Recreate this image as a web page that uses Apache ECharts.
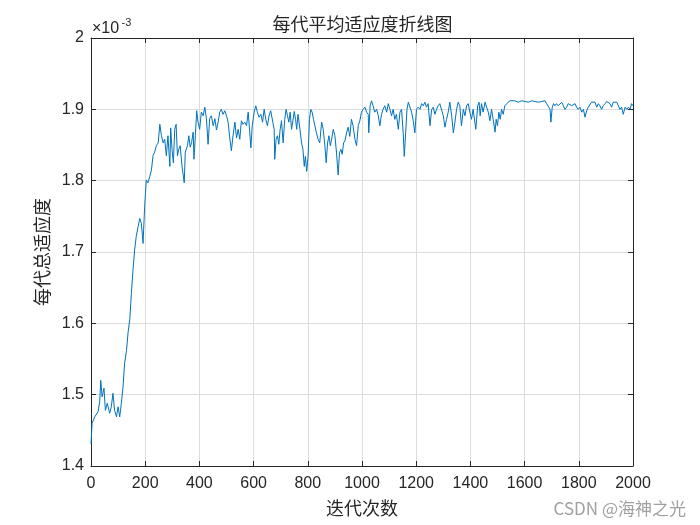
<!DOCTYPE html>
<html>
<head>
<meta charset="utf-8">
<script src="https://cdn.jsdelivr.net/npm/echarts@6/dist/echarts.min.js"></script>
<style>
  html, body { margin: 0; padding: 0; background: #fff; }
  #chart { width: 700px; height: 525px; }
</style>
</head>
<body>
<div id="chart"></div>
<script>
// 迭代次数（采样点）
const iterations = [
  0, 4, 14, 26, 32, 36, 41, 48, 53, 60, 69, 75, 81, 87, 94, 100, 106, 112, 118, 124,
  131, 137, 143, 149, 155, 161, 167, 174, 180, 186, 192, 198, 204, 210, 217, 223, 229, 235, 241, 248,
  254, 260, 266, 272, 278, 284, 291, 294, 299, 304, 309, 314, 319, 324, 329, 336, 344, 348, 356, 361,
  366, 371, 377, 380, 385, 390, 395, 401, 407, 414, 420, 426, 432, 438, 444, 451, 457, 463,
  469, 475, 481, 487, 494, 500, 506, 512, 518, 524, 531, 537, 543, 549, 555, 561, 567, 574, 580, 586,
  590, 595, 602, 608, 614, 620, 627, 633, 639, 645, 651, 657, 663, 670, 676, 678, 683, 688, 693, 698,
  703, 709, 715, 720, 725, 730, 735, 740, 745, 750, 755, 759, 764, 771, 777, 782, 787, 791, 796, 801,
  806, 811, 816, 821, 826, 832, 838, 844, 851, 857, 863, 868, 873, 878, 883, 887, 894, 900, 906, 912,
  917, 922, 927, 932, 937, 943, 949,
  955, 961, 967, 974, 980, 986, 992, 998, 1004, 1011, 1017, 1023, 1025, 1030, 1035, 1041, 1047, 1054, 1060, 1066,
  1072, 1078, 1084, 1091, 1097, 1103, 1109, 1115, 1121, 1127, 1134, 1140, 1146, 1152, 1156, 1161, 1166, 1171, 1177, 1183,
  1189, 1195, 1201, 1207, 1214, 1220, 1226, 1232, 1238, 1244, 1251, 1257, 1263, 1269, 1275, 1281, 1287, 1294, 1300, 1306,
  1312, 1318, 1324, 1331, 1337, 1343, 1349, 1355, 1361, 1367, 1374, 1380, 1386, 1392, 1398, 1404, 1410,
  1417, 1420, 1427, 1432, 1436, 1441, 1447, 1454, 1460, 1466, 1472, 1478, 1484, 1491, 1495, 1500, 1505, 1510, 1515, 1521,
  1527, 1534, 1540, 1546, 1552, 1564, 1577, 1589, 1601, 1614, 1626, 1638, 1651, 1663, 1675, 1681, 1687, 1694, 1697, 1702,
  1707, 1712, 1718, 1724, 1731, 1737, 1743, 1749, 1755, 1761, 1767, 1774, 1780, 1786, 1792, 1798, 1804, 1811, 1817, 1823,
  1829, 1835, 1841, 1847, 1854, 1860, 1866, 1872, 1878, 1884, 1890, 1897, 1903, 1909, 1915, 1921, 1927, 1934, 1940, 1946,
  1952, 1958, 1964, 1971, 1977, 1983, 1989, 1995, 2000
];

// 每代平均适应度（单位 ×10^-3）
const fitnessE3 = [
  1.431, 1.460, 1.469, 1.476, 1.490, 1.520, 1.497, 1.509, 1.478, 1.488, 1.474, 1.483, 1.502, 1.478, 1.469, 1.483, 1.469, 1.488, 1.510, 1.544,
  1.562, 1.588, 1.605, 1.642, 1.675, 1.703, 1.722, 1.736, 1.747, 1.740, 1.712, 1.764, 1.801, 1.797, 1.806, 1.815, 1.835, 1.840, 1.849, 1.853,
  1.879, 1.863, 1.853, 1.858, 1.835, 1.863, 1.820, 1.874, 1.844, 1.825, 1.872, 1.879, 1.835, 1.844, 1.849, 1.820, 1.797, 1.840, 1.849, 1.863,
  1.847, 1.853, 1.868, 1.830, 1.863, 1.898, 1.882, 1.872, 1.896, 1.891, 1.903, 1.887, 1.851, 1.887, 1.891, 1.877, 1.887, 1.871,
  1.882, 1.896, 1.900, 1.893, 1.898, 1.891, 1.882, 1.860, 1.842, 1.863, 1.882, 1.860, 1.872, 1.858, 1.884, 1.879, 1.882, 1.877, 1.896, 1.867,
  1.846, 1.877, 1.896, 1.905, 1.896, 1.889, 1.893, 1.882, 1.900, 1.886, 1.877, 1.891, 1.898, 1.900, 1.872, 1.830, 1.858, 1.863, 1.851, 1.872,
  1.884, 1.853, 1.886, 1.900, 1.891, 1.882, 1.896, 1.872, 1.884, 1.897, 1.886, 1.872, 1.893, 1.872, 1.853, 1.844, 1.820, 1.834, 1.813, 1.834,
  1.886, 1.900, 1.896, 1.886, 1.877, 1.867, 1.858, 1.853, 1.882, 1.872, 1.849, 1.825, 1.853, 1.863, 1.849, 1.856, 1.872, 1.863, 1.839, 1.808,
  1.839, 1.844, 1.837, 1.853, 1.856, 1.867, 1.875,
  1.862, 1.886, 1.877, 1.858, 1.849, 1.877, 1.884, 1.896, 1.900, 1.903, 1.896, 1.893, 1.867, 1.905, 1.912, 1.905, 1.896, 1.900, 1.891, 1.877,
  1.893, 1.900, 1.905, 1.896, 1.908, 1.900, 1.891, 1.900, 1.886, 1.893, 1.872, 1.896, 1.900, 1.867, 1.834, 1.867, 1.900, 1.910, 1.908, 1.896,
  1.884, 1.867, 1.900, 1.903, 1.900, 1.908, 1.905, 1.910, 1.903, 1.908, 1.877, 1.900, 1.903, 1.893, 1.900, 1.905, 1.908, 1.910, 1.891, 1.875,
  1.886, 1.896, 1.910, 1.891, 1.867, 1.882, 1.900, 1.910, 1.905, 1.877, 1.900, 1.891, 1.905, 1.908, 1.896, 1.886, 1.900,
  1.900, 1.872, 1.905, 1.910, 1.891, 1.908, 1.896, 1.910, 1.903, 1.896, 1.884, 1.900, 1.886, 1.868, 1.886, 1.877, 1.896, 1.886, 1.900, 1.893,
  1.905, 1.908, 1.910, 1.912, 1.911, 1.912, 1.910, 1.912, 1.911, 1.910, 1.912, 1.911, 1.910, 1.911, 1.912, 1.908, 1.910, 1.900, 1.882, 1.903,
  1.908, 1.905, 1.908, 1.905, 1.903, 1.910, 1.905, 1.900, 1.903, 1.908, 1.910, 1.905, 1.903, 1.908, 1.903, 1.900, 1.903, 1.896, 1.900, 1.889,
  1.898, 1.903, 1.905, 1.910, 1.908, 1.910, 1.903, 1.908, 1.905, 1.900, 1.905, 1.908, 1.911, 1.910, 1.908, 1.903, 1.910, 1.908, 1.910, 1.908,
  1.900, 1.903, 1.893, 1.903, 1.900, 1.903, 1.900, 1.908, 1.905
];

const xTicks = { min: 0, max: 2000, interval: 200 };
const yTicks = { min: 1.4, max: 2.0, interval: 0.1 };

const AXIS_COLOR = '#262626';
const LABEL_FONT = 'Arial, "Liberation Sans", Helvetica, sans-serif';
const CJK_FONT = '"Noto Sans CJK SC", sans-serif';

const chart = echarts.init(document.getElementById('chart'), null, { renderer: 'canvas' });

const tickStyle = { inside: true, length: 5, lineStyle: { color: AXIS_COLOR, width: 1 } };
const lineStyle = { show: true, lineStyle: { color: AXIS_COLOR, width: 1 } };

chart.setOption({
  animation: false,
  backgroundColor: '#fff',
  grid: { left: 91, right: 67, top: 38, bottom: 59, containLabel: false },
  xAxis: [
    {
      type: 'value', ...xTicks,
      axisLine: { ...lineStyle, onZero: false },
      axisTick: tickStyle,
      splitLine: { show: true, lineStyle: { color: '#dcdcdc', width: 1 } },
      axisLabel: { color: AXIS_COLOR, fontSize: 16, fontFamily: LABEL_FONT, margin: 10, formatter: v => String(v) },
      name: '迭代次数', nameLocation: 'middle', nameGap: 33,
      nameTextStyle: { color: AXIS_COLOR, fontSize: 18, fontFamily: CJK_FONT }
    },
    {
      type: 'value', position: 'top', ...xTicks,
      axisLine: { ...lineStyle, onZero: false },
      axisTick: tickStyle,
      splitLine: { show: false },
      axisLabel: { show: false }
    }
  ],
  yAxis: [
    {
      type: 'value', ...yTicks,
      axisLine: { ...lineStyle, onZero: false },
      axisTick: tickStyle,
      splitLine: { show: true, lineStyle: { color: '#dcdcdc', width: 1 } },
      axisLabel: {
        color: AXIS_COLOR, fontSize: 16, fontFamily: LABEL_FONT, margin: 7,
        formatter: v => String(+v.toFixed(1))
      },
      name: '每代总适应度', nameLocation: 'middle', nameGap: 37, nameRotate: 90,
      nameTextStyle: { color: AXIS_COLOR, fontSize: 18, fontFamily: CJK_FONT }
    },
    {
      type: 'value', position: 'right', ...yTicks,
      axisLine: { ...lineStyle, onZero: false },
      axisTick: tickStyle,
      splitLine: { show: false },
      axisLabel: { show: false }
    }
  ],
  series: [{
    type: 'line',
    showSymbol: false,
    symbol: 'none',
    lineStyle: { color: '#0072BD', width: 1 },
    data: iterations.map((it, i) => [it, fitnessE3[i]])
  }],
  graphic: [
    {
      type: 'text', x: 362.5, y: 24.5,
      style: {
        text: '每代平均适应度折线图', fill: AXIS_COLOR,
        font: '18px "Noto Sans CJK SC", sans-serif',
        textAlign: 'center', textVerticalAlign: 'middle'
      }
    },
    {
      // 坐标轴指数 ×10^-3
      type: 'text', x: 92, y: 29,
      style: {
        text: '×10', fill: AXIS_COLOR,
        font: '16px Arial, "Liberation Sans", sans-serif',
        textAlign: 'left', textVerticalAlign: 'middle'
      }
    },
    {
      type: 'text', x: 121.5, y: 22.5,
      style: {
        text: '-3', fill: AXIS_COLOR,
        font: '11px Arial, "Liberation Sans", sans-serif',
        textAlign: 'left', textVerticalAlign: 'middle'
      }
    },
    {
      type: 'text', x: 686, y: 509,
      style: {
        text: 'CSDN @海神之光', fill: '#a0a0a0',
        font: '17px "Noto Sans CJK SC", sans-serif',
        textAlign: 'right', textVerticalAlign: 'middle'
      }
    }
  ]
});
</script>
</body>
</html>
